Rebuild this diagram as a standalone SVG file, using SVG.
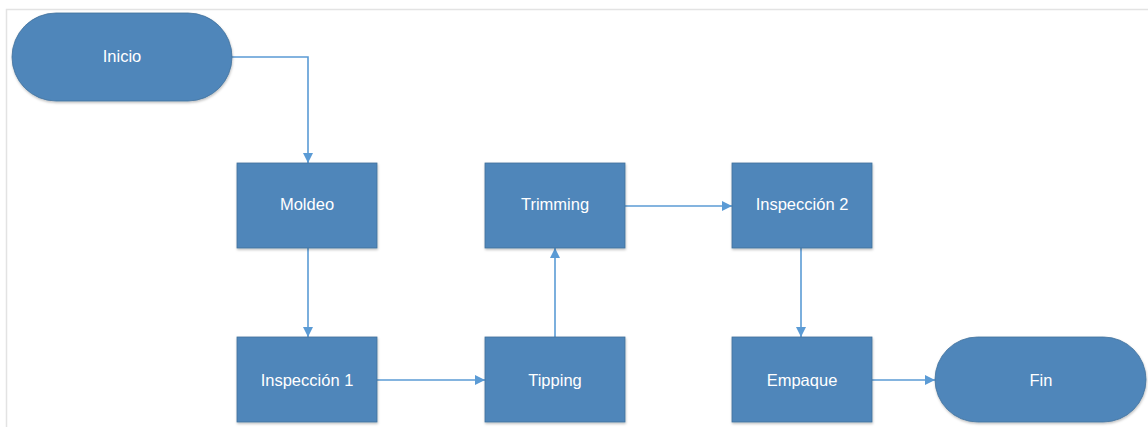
<svg xmlns="http://www.w3.org/2000/svg" width="1148" height="427" viewBox="0 0 1148 427">
<defs>
<marker id="arr" viewBox="0 0 10 10" refX="10" refY="5" markerWidth="10" markerHeight="10" markerUnits="userSpaceOnUse" orient="auto">
<path d="M0,0 L10,5 L0,10 Z" fill="#5B9BD5"/>
</marker>
<filter id="sh" x="-10%" y="-10%" width="120%" height="130%">
<feDropShadow dx="0.5" dy="1.5" stdDeviation="1" flood-color="#000" flood-opacity="0.25"/>
</filter>
</defs>
<style>
.n{fill:#4F86BA;stroke:#41719C;stroke-width:0.8;filter:url(#sh)}
.t{fill:#fff;font-family:"Liberation Sans",Arial,sans-serif;font-size:16.5px;text-anchor:middle;dominant-baseline:central}
.c{fill:none;stroke:#5B9BD5;stroke-width:1.6;marker-end:url(#arr)}
</style>
<rect width="1148" height="427" fill="#fff"/>
<path d="M6.5,427 V9.5 H1148" fill="none" stroke="#e3e3e3" stroke-width="1.5"/>
<g id="connectors">
<path class="c" d="M232,57 H308 V163"/>
<path class="c" d="M308,248 V337"/>
<path class="c" d="M377,380 H485"/>
<path class="c" d="M555,337 V248"/>
<path class="c" d="M625,206 H732"/>
<path class="c" d="M801,248 V337"/>
<path class="c" d="M872,380 H935"/>
</g>
<g id="inicio"><rect class="n" x="12" y="13" width="220" height="88" rx="44"/><text class="t" x="122" y="56">Inicio</text></g>
<g id="moldeo"><rect class="n" x="237" y="163" width="140" height="85"/><text class="t" x="307" y="204">Moldeo</text></g>
<g id="inspeccion1"><rect class="n" x="237" y="337" width="140" height="85"/><text class="t" x="307" y="380">Inspección 1</text></g>
<g id="tipping"><rect class="n" x="485" y="337" width="140" height="85"/><text class="t" x="555" y="380">Tipping</text></g>
<g id="trimming"><rect class="n" x="485" y="163" width="140" height="85"/><text class="t" x="555" y="204">Trimming</text></g>
<g id="inspeccion2"><rect class="n" x="732" y="163" width="140" height="85"/><text class="t" x="802" y="204">Inspección 2</text></g>
<g id="empaque"><rect class="n" x="732" y="337" width="140" height="85"/><text class="t" x="802" y="380">Empaque</text></g>
<g id="fin"><rect class="n" x="935" y="337" width="211" height="85" rx="42.5"/><text class="t" x="1041" y="380">Fin</text></g>
</svg>
